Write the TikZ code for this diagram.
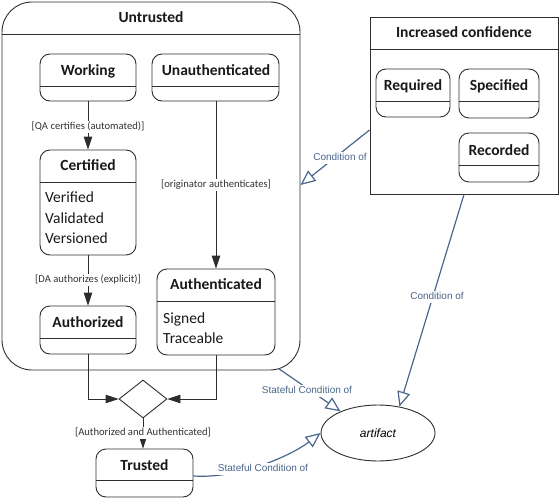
\documentclass[tikz,border=0pt]{standalone}
\usepackage{fontspec}
\setmainfont{Carlito}
\newfontfamily\lsans{Liberation Sans}
\usetikzlibrary{arrows.meta,shapes.geometric,calc}
\definecolor{lc}{RGB}{45,45,45}
\definecolor{bl}{RGB}{74,102,140}
\begin{document}
\begin{tikzpicture}[x=1pt,y=-1pt,
  sbox/.style={draw=lc,line width=0.9pt,rounded corners=10pt,inner sep=0pt},
  ttl/.style={inner sep=0pt,font=\bfseries\fontsize{15.5}{18}\selectfont,text=black!90,text height=10pt,text depth=0pt},
  body/.style={inner sep=0pt,font=\fontsize{15.5}{20.5}\selectfont,align=left,anchor=west,text=black!90},
  glabel/.style={fill=white,inner sep=1.5pt,font=\fontsize{10.6}{12}\selectfont,text=black!80,text height=7.5pt,text depth=2pt},
  blabel/.style={fill=white,inner sep=1.5pt,font=\lsans\fontsize{10}{12}\selectfont,text=bl,text height=7pt,text depth=2pt},
  flow/.style={draw=lc,line width=0.9pt,-{Triangle[length=13pt,width=8.5pt]}},
  cond/.style={draw=bl,line width=1.2pt,-{Triangle[open,length=15pt,width=13pt,line width=1.2pt]}},
  div/.style={draw=lc,line width=0.9pt}]
\useasboundingbox (0,0) rectangle (559,500);

% Untrusted composite state
\node[sbox,rounded corners=30pt,minimum width=298pt,minimum height=368pt] (untr) at (151,186) {};
\draw[div] (untr.north west |- 0,34) -- (untr.north east |- 0,34);
\node[ttl] (untrt) at (151,18) {Untrusted};

% Working
\node[sbox,minimum width=96pt,minimum height=47pt] (work) at (88,77.5) {};
\draw[div] (work.north west |- 0,86) -- (work.north east |- 0,86);
\node[ttl] (workt) at (88,71) {Working};

% Unauthenticated
\node[sbox,minimum width=127pt,minimum height=47pt] (unauth) at (215.5,77.5) {};
\draw[div] (unauth.north west |- 0,86) -- (unauth.north east |- 0,86);
\node[ttl] (unautht) at (216,71) {Unauthenticated};

% Certified
\node[sbox,minimum width=96pt,minimum height=105pt] (cert) at (88,202.5) {};
\draw[div] (cert.north west |- 0,182) -- (cert.north east |- 0,182);
\node[ttl] (certt) at (88,165) {Certified};
\node[body] (certb) at (45,218) {Verified\\Validated\\Versioned};

% Authorized
\node[sbox,minimum width=96pt,minimum height=48pt] (authz) at (88,330) {};
\draw[div] (authz.north west |- 0,338) -- (authz.north east |- 0,338);
\node[ttl] (authzt) at (88,322) {Authorized};

% Authenticated
\node[sbox,minimum width=118pt,minimum height=86pt] (authn) at (216,312) {};
\draw[div] (authn.north west |- 0,301) -- (authn.north east |- 0,301);
\node[ttl] (authnt) at (216,284) {Authenticated};
\node[body] (authnb) at (163,328) {Signed\\Traceable};

% Decision
\node[draw=lc,line width=0.9pt,diamond,inner sep=0pt,minimum width=48pt,minimum height=38pt] (dia) at (143,399) {};

% Trusted
\node[sbox,minimum width=97pt,minimum height=48pt] (trust) at (144.5,473) {};
\draw[div] (trust.north west |- 0,480) -- (trust.north east |- 0,480);
\node[ttl] (trustt) at (144.5,465) {Trusted};

% Increased confidence
\node[draw=lc,line width=0.9pt,inner sep=0pt,minimum width=188pt,minimum height=177pt] (incr) at (464,105.5) {};
\draw[div] (incr.north west |- 0,49) -- (incr.north east |- 0,49);
\node[ttl] (incrt) at (464,33) {Increased confidence};

\node[sbox,minimum width=74pt,minimum height=48pt] (req) at (413,93) {};
\draw[div] (req.north west |- 0,101) -- (req.north east |- 0,101);
\node[ttl] (reqt) at (413,86) {Required};

\node[sbox,minimum width=80pt,minimum height=49pt] (spec) at (499,93.5) {};
\draw[div] (spec.north west |- 0,101) -- (spec.north east |- 0,101);
\node[ttl] (spect) at (499,86) {Specified};

\node[sbox,minimum width=80pt,minimum height=49pt] (rec) at (499,157.5) {};
\draw[div] (rec.north west |- 0,165) -- (rec.north east |- 0,165);
\node[ttl] (rect) at (499,150) {Recorded};

% artifact
\node[draw=lc,line width=0.9pt,ellipse,inner sep=0pt,minimum width=114pt,minimum height=56pt,font=\lsans\itshape\fontsize{12}{14}\selectfont] (art) at (378,433) {artifact};

% flows
\draw[flow] (work.south) -- (cert.north);
\node[glabel] (l1) at (88,127) {[QA certifies (automated)]};
\draw[flow] (unauth.south -| authn.north) -- (authn.north);
\node[glabel] (l2) at (216,185) {[originator authenticates]};
\draw[flow] (cert.south) -- (authz.north);
\node[glabel] (l3) at (88,280) {[DA authorizes (explicit)]};
\draw[flow] (authz.south) |- (dia.west);
\draw[flow] (authn.south) |- (dia.east);
\draw[flow] (dia.south) -- (dia.south |- trust.north);
\node[glabel] (l4) at (143,433) {[Authorized and Authenticated]};

% conditions
\draw[cond] (incr.north west |- 0,130) -- (untr.north east |- 0,185);
\node[blabel] (c1) at (340,158) {Condition of};
\draw[cond] (incr.south) -- (art.51);
\node[blabel] (c2) at (437,297) {Condition of};
\draw[cond] ($(untr.south east)+(-22,-2)$) -- (art.150);
\node[blabel] (c3) at (307,391) {Stateful Condition of};
\draw[cond] (trust.east |- 0,476) .. controls (240,479) and (292,455) .. (art.west);
\node[blabel] (c4) at (263,469) {Stateful Condition of};
\end{tikzpicture}
\end{document}
